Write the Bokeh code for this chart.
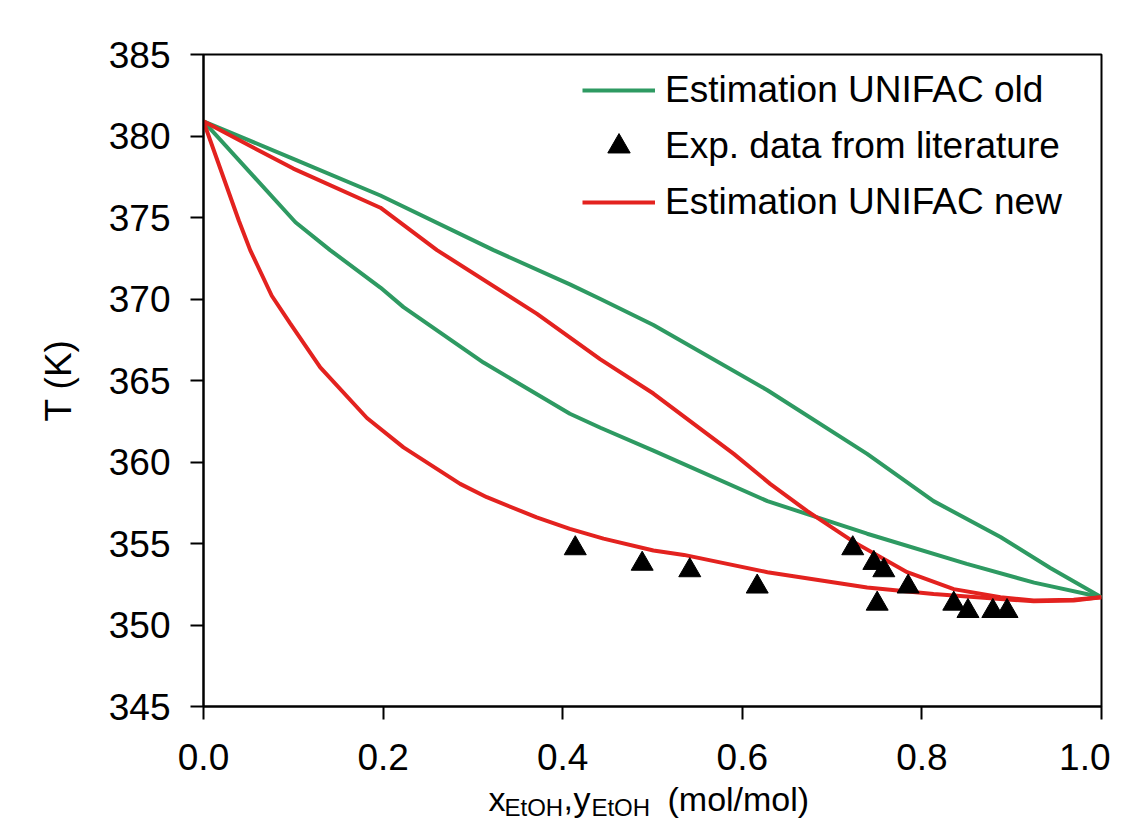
from bokeh.plotting import figure
from bokeh.layouts import column
from bokeh.models import (Range1d, FixedTicker, NumeralTickFormatter, Legend, LegendItem, Label)
from bokeh.embed import file_html
from bokeh.resources import INLINE

# ---- data ----
old_dew_x = [0.0, 0.1, 0.197, 0.323, 0.408, 0.442, 0.501, 0.628, 0.739, 0.813, 0.8875, 0.943, 1.0]
old_dew_T = [380.9, 378.6, 376.35, 373.0, 370.9, 370.0, 368.4, 364.4, 360.5, 357.6, 355.4, 353.5, 351.7]

old_bub_x = [0.0, 0.1024, 0.141, 0.197, 0.2227, 0.3118, 0.408, 0.442, 0.501, 0.628, 0.739, 0.85, 0.925, 1.0]
old_bub_T = [380.9, 374.71, 373.0, 370.7, 369.5, 366.1, 362.96, 362.1, 360.7, 357.6, 355.6, 353.75, 352.6, 351.7]

new_dew_x = [0.0, 0.1, 0.197, 0.26, 0.371, 0.442, 0.501, 0.5905, 0.631, 0.672, 0.724, 0.7836, 0.8355, 0.8875, 0.9246, 0.969, 1.0]
new_dew_T = [380.9, 378.0, 375.6, 373.0, 369.1, 366.3, 364.2, 360.5, 358.66, 357.0, 355.1, 353.24, 352.2, 351.7, 351.5, 351.55, 351.7]

new_bub_x = [0.0, 0.0394, 0.052, 0.076, 0.0965, 0.130, 0.182, 0.2227, 0.2858, 0.3155, 0.371, 0.408, 0.4454, 0.501, 0.535, 0.628, 0.739, 0.813, 0.8875, 0.9246, 0.969, 1.0]
new_bub_T = [380.9, 374.8, 373.0, 370.2, 368.5, 365.8, 362.7, 360.9, 358.66, 357.84, 356.6, 355.9, 355.3, 354.57, 354.3, 353.24, 352.3, 351.9, 351.6, 351.46, 351.5, 351.7]

exp_x = [0.414, 0.4885, 0.5415, 0.6166, 0.723, 0.7465, 0.7576, 0.7847, 0.7502, 0.8355, 0.8513, 0.879, 0.8948]
exp_T = [354.7, 353.75, 353.35, 352.35, 354.7, 353.8, 353.35, 352.35, 351.3, 351.3, 350.85, 350.85, 350.85]

x_ticks = [0.0, 0.2, 0.4, 0.6, 0.8, 1.0]
y_ticks = [345, 350, 355, 360, 365, 370, 375, 380, 385]

GREEN = "#2e9a62"
RED = "#e3221f"
FONT = "Liberation Sans"

W = 1110
MAIN_H = 778
LAB_H = 42

p = figure(width=W, height=MAIN_H, output_backend="svg", toolbar_location=None,
           x_range=Range1d(0, 1), y_range=Range1d(345, 385),
           min_border_left=203, min_border_right=9, min_border_top=54, min_border_bottom=MAIN_H - 706)
p.background_fill_color = "white"
p.border_fill_color = "white"
p.grid.visible = False
p.outline_line_color = "black"
p.outline_line_width = 2
p.outline_line_alpha = 1

for ax in (p.xaxis[0], p.yaxis[0]):
    ax.axis_line_width = 2
    ax.axis_line_color = "black"
    ax.major_tick_line_width = 2
    ax.major_tick_line_color = "black"
    ax.major_tick_in = 0
    ax.major_tick_out = 13
    ax.minor_tick_line_color = None
    ax.major_label_text_font = FONT
    ax.major_label_text_font_size = "37px"
    ax.major_label_text_color = "black"
p.xaxis.major_label_standoff = 24
p.yaxis.major_label_standoff = 20

p.xaxis.ticker = FixedTicker(ticks=x_ticks)
p.xaxis.formatter = NumeralTickFormatter(format="0.0")
p.yaxis.ticker = FixedTicker(ticks=y_ticks)

p.yaxis.axis_label = "T (K)"
p.yaxis.axis_label_text_font = FONT
p.yaxis.axis_label_text_font_size = "37px"
p.yaxis.axis_label_text_font_style = "normal"
p.yaxis.axis_label_text_color = "black"
p.yaxis.axis_label_standoff = 27

r_old1 = p.line(old_dew_x, old_dew_T, line_color=GREEN, line_width=4)
p.line(old_bub_x, old_bub_T, line_color=GREEN, line_width=4)
r_new1 = p.line(new_dew_x, new_dew_T, line_color=RED, line_width=4)
p.line(new_bub_x, new_bub_T, line_color=RED, line_width=4)
r_exp = p.scatter(exp_x, exp_T, marker="triangle", size=22, fill_color="black", line_color="black")

legend = Legend(items=[
    LegendItem(label="Estimation UNIFAC old", renderers=[r_old1]),
    LegendItem(label="Exp. data from literature", renderers=[r_exp]),
    LegendItem(label="Estimation UNIFAC new", renderers=[r_new1]),
], location=(379, 476))
legend.border_line_color = None
legend.background_fill_alpha = 0
legend.padding = 0
legend.margin = 0
legend.spacing = 0
legend.glyph_width = 73
legend.glyph_height = 56
legend.label_height = 56
legend.label_standoff = 10
legend.label_text_font = FONT
legend.label_text_font_size = "37px"
legend.label_text_color = "black"
p.add_layout(legend, "center")

# ---- strip below the chart carrying the x-axis title with subscripts ----
p2 = figure(width=W, height=LAB_H, output_backend="svg", toolbar_location=None,
            x_range=Range1d(0, 1), y_range=Range1d(0, LAB_H),
            x_axis_location=None, y_axis_location=None,
            min_border_left=203, min_border_right=9, min_border_top=0, min_border_bottom=0)
p2.grid.visible = False
p2.outline_line_color = None
p2.background_fill_color = "white"
p2.border_fill_color = "white"

main_base = 21.8
sub_base = 13.5
parts = [
    ("x", 0.3174, main_base, "34px"),
    ("EtOH", 0.3352, sub_base, "24px"),
    (",", 0.4009, main_base, "34px"),
    ("y", 0.4120, main_base, "34px"),
    ("EtOH", 0.4320, sub_base, "24px"),
    ("(mol/mol)", 0.5167, main_base, "34px"),
]
for txt, xx, yy, fs in parts:
    p2.add_layout(Label(x=xx, y=yy, text=txt, text_font=FONT, text_font_size=fs,
                        text_color="black", text_align="left", text_baseline="alphabetic"))

layout = column(p, p2, spacing=0)
open("out.html", "w").write(file_html(layout, INLINE))
